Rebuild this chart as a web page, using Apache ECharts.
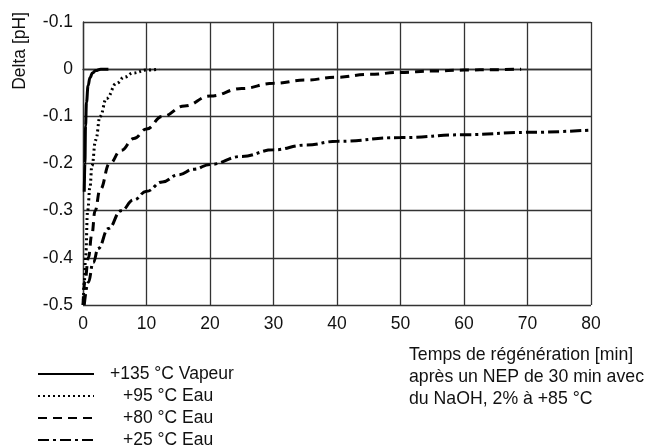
<!DOCTYPE html>
<html>
<head>
<meta charset="utf-8">
<script src="https://cdn.jsdelivr.net/npm/echarts@6/dist/echarts.min.js"></script>
<style>
  html, body { margin: 0; padding: 0; background: #fff; }
  #main { width: 645px; height: 448px; }
</style>
</head>
<body>
<div id="main"></div>
<script>
// x = regeneration time [min], y = delta pH
const xTicks = [0, 10, 20, 30, 40, 50, 60, 70, 80];
const yTickLabels = ["-0.5", "-0.4", "-0.3", "-0.2", "-0.1", "0", "-0.1"];

const seriesNames = ["+135 °C Vapeur", "+95 °C Eau", "+80 °C Eau", "+25 °C Eau"];

const vapeur135 = [
  [0.2, -0.26], [0.3, -0.2], [0.4, -0.12], [0.55, -0.07], [0.8, -0.035],
  [1.1, -0.018], [1.5, -0.008], [2, -0.003], [2.8, 0], [4, 0]
];
const eau95 = [
  [0.05, -0.5], [0.2, -0.45], [0.42, -0.395], [0.73, -0.3], [1.1, -0.25],
  [1.4, -0.205], [2, -0.15], [2.7, -0.1], [3.7, -0.062], [5.3, -0.03],
  [6.5, -0.017], [7.9, -0.008], [10, -0.002], [12, 0]
];
const eau80 = [
  [0, -0.5], [0.3, -0.45], [0.85, -0.4], [1.4, -0.35], [1.9, -0.3],
  [2.7, -0.255], [4.2, -0.2], [6, -0.172], [8, -0.147], [10, -0.127],
  [12.5, -0.1], [16, -0.078], [20, -0.057], [25, -0.041], [30, -0.03],
  [35, -0.023], [40, -0.017], [45, -0.011], [50, -0.007], [55, -0.004],
  [60, -0.002], [65, -0.001], [69, 0]
];
const eau25 = [
  [0.2, -0.5], [0.84, -0.452], [1.6, -0.41], [2.4, -0.38], [4, -0.338],
  [6, -0.3], [8, -0.277], [10, -0.259], [12.5, -0.239], [15, -0.224],
  [17.5, -0.212], [20, -0.202], [25, -0.185], [30, -0.171], [35, -0.161],
  [40, -0.153], [50, -0.145], [60, -0.139], [70, -0.134], [80, -0.129]
];

const noteLines = [
  "Temps de régénération [min]",
  "après un NEP de 30 min avec",
  "du NaOH, 2% à +85 °C"
];

const FONT = "Liberation Sans";
const gridColor = "#333";

const chart = echarts.init(document.getElementById("main"), null, { renderer: "canvas" });

function lineSeries(name, data, type, width) {
  return {
    name: name,
    type: "line",
    data: data,
    symbol: "none",
    smooth: 0.45,
    smoothMonotone: "x",
    lineStyle: { color: "#000", width: width, type: type, cap: "butt" },
    itemStyle: { color: "#000" }
  };
}

// one legend per row so the rows sit exactly where the reference has them
const legends = seriesNames.map(function (name, i) {
  return {
    orient: "vertical",
    left: 37,
    top: 365 + 22 * i,
    padding: 0,
    itemWidth: 56,
    itemHeight: 14,
    itemStyle: { opacity: 0 },
    selectedMode: false,
    data: [name],
    textStyle: {
      color: "#111",
      fontSize: 17.5,
      fontFamily: FONT,
      padding: [0, 0, 0, i === 0 ? 11 : 24]
    }
  };
});

const option = {
  animation: false,
  backgroundColor: "#fff",
  textStyle: { fontFamily: FONT },
  grid: { left: 83, top: 22, right: 54, bottom: 143 },
  xAxis: {
    type: "value",
    min: 0,
    max: 80,
    interval: 10,
    axisLine: { show: true, lineStyle: { color: gridColor, width: 1.3 } },
    axisTick: { show: false },
    splitLine: { show: true, lineStyle: { color: gridColor, width: 1.3 } },
    axisLabel: { color: "#111", fontSize: 17.5, margin: 10, fontFamily: FONT }
  },
  yAxis: {
    type: "value",
    min: -0.5,
    max: 0.1,
    interval: 0.1,
    axisLine: { show: true, lineStyle: { color: gridColor, width: 1.3 } },
    axisTick: { show: false },
    splitLine: { show: true, lineStyle: { color: gridColor, width: 1.3 } },
    axisLabel: {
      color: "#111",
      fontSize: 17.5,
      margin: 10,
      fontFamily: FONT,
      formatter: function (v) {
        return yTickLabels[Math.round((v + 0.5) * 10)];
      }
    }
  },
  legend: legends,
  graphic: [
    {
      type: "text",
      left: 11,
      top: 12,
      rotation: Math.PI / 2,
      style: {
        text: "Delta [pH]",
        font: "17.5px " + FONT,
        fill: "#111"
      }
    },
    {
      type: "text",
      left: 409,
      top: 344,
      style: {
        text: noteLines.join("\n"),
        font: "17.7px " + FONT,
        lineHeight: 22,
        fill: "#111"
      }
    }
  ],
  series: [
    lineSeries(seriesNames[0], vapeur135, "solid", 3),
    lineSeries(seriesNames[1], eau95, [2, 3], 3),
    lineSeries(seriesNames[2], eau80, [9, 6], 3),
    lineSeries(seriesNames[3], eau25, [11, 4, 3, 4], 3)
  ]
};

chart.setOption(option);
</script>
</body>
</html>
